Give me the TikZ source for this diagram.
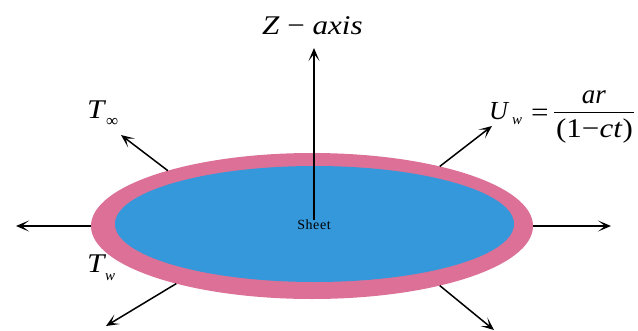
\documentclass[tikz,border=0pt]{standalone}
\usepackage{fontspec}
\setmainfont{Liberation Serif}
\newfontfamily\wideserif[FakeStretch=1.15]{Liberation Serif}
\usetikzlibrary{arrows.meta,shapes.geometric,backgrounds}
\definecolor{rimpink}{RGB}{221,112,150}
\definecolor{sheetblue}{RGB}{52,152,219}
\newcommand{\fsz}[1]{\fontsize{#1}{#1}\selectfont}
\tikzset{
  x=1pt,y=-1pt,
  radial/.style={line width=1.5pt,-{Stealth[length=13pt,width=11pt,inset=7pt]}},
  disc/.style={shape=ellipse,inner sep=0pt,outer sep=0pt},
  lab/.style={inner sep=0pt,outer sep=0pt,text=black},
}
\begin{document}
\begin{tikzpicture}
\useasboundingbox (0,0) rectangle (638,330);
\node[disc,fill=rimpink,minimum width=442pt,minimum height=146pt] (rim) at (312,226) {};
\node[disc,fill=sheetblue,minimum width=399pt,minimum height=116pt] (blue) at (314.5,224) {};
\node[lab,font=\fsz{14}\addfontfeature{LetterSpace=4}] (sheet) at (314,225) {Sheet};

\coordinate (ztip) at (314,48);
\coordinate (ltip) at (16,226);
\coordinate (rtip) at (611,226);
\coordinate (ultip) at (121,135);
\coordinate (urtip) at (492,126);
\coordinate (lltip) at (106,326);
\coordinate (lrtip) at (494,330);

\draw[radial] (sheet.north) -- (ztip);
\draw[radial] (rim.west) -- (ltip);
\draw[radial] (rim.east) -- (rtip);
\draw[radial] (rim.159.4) -- (ultip);
\draw[radial] (rim.25) -- (urtip);
\draw[radial] (rim.203) -- (lltip);
\draw[radial] (rim.335) -- (lrtip);

\node[lab,font=\wideserif\fsz{27},anchor=base west] (zlabel) at (262,34) {\textit{Z} − \textit{axis}};
\node[lab,font=\wideserif\fsz{27},anchor=base west] (tinf) at (87,118) {\textit{T}};
\node[lab,font=\fsz{17},anchor=base west] (tinfsub) at (106,126) {∞};
\node[lab,font=\wideserif\fsz{27},anchor=base west] (tw) at (87,272) {\textit{T}};
\node[lab,font=\fsz{15},anchor=base west] (twsub) at (105,280) {\textit{w}};
\node[lab,font=\fsz{26},anchor=base west] (uw) at (489,119) {\textit{U}};
\node[lab,font=\fsz{15},anchor=base west] (uwsub) at (512,124) {\textit{w}};
\node[lab,font=\wideserif\fsz{27},anchor=base west] (eq) at (531,121) {=};
\node[lab,font=\fsz{27},anchor=base] (num) at (594,103) {\textit{ar}};
\node[lab,font=\wideserif\fsz{27},anchor=base] (den) at (594.5,137) {(1−\textit{ct})};
\draw[line width=1pt] (554,112) -- (634,112);
\end{tikzpicture}
\end{document}
